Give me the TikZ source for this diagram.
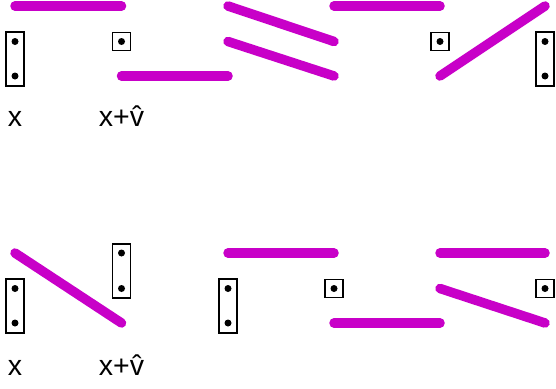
\documentclass[tikz,border=0pt]{standalone}
\usepackage{fontspec}
\setmainfont{Liberation Sans}
\usetikzlibrary{calc}
\definecolor{mag}{RGB}{200,0,200}
\begin{document}
\begin{tikzpicture}[x=1pt,y=-1pt,
  seg/.style={draw=mag,line width=9.5pt,line cap=round},
  tallbox/.style={draw=black,fill=white,line width=1.8pt,minimum width=18pt,minimum height=54pt,inner sep=0pt},
  smallbox/.style={draw=black,fill=white,line width=1.8pt,minimum width=18pt,minimum height=18pt,inner sep=0pt},
  dot/.style={fill=black,circle,inner sep=0pt,minimum size=7pt},
  lbl/.style={font=\fontsize{28.5}{32}\selectfont,inner sep=0pt,anchor=base}]
\useasboundingbox (0,0) rectangle (556,388);
% grid coordinates
\foreach \c/\xx in {0/15,1/121.5,2/228,3/334,4/440,5/545}{
  \foreach \r/\yy in {a/6,b/41.5,c/76,d/253,e/288.5,f/323}{
    \coordinate (p\c\r) at (\xx,\yy);
  }
}
% ---- top row boxes
\node[tallbox] (tb0) at ($(p0b)!0.5!(p0c)$) {};
\node[smallbox] (sb1) at (p1b) {};
\node[smallbox] (sb4) at (p4b) {};
\node[tallbox] (tb5) at ($(p5b)!0.5!(p5c)$) {};
\node[dot] (d0b) at (p0b) {};
\node[dot] (d0c) at (p0c) {};
\node[dot] (d1b) at (p1b) {};
\node[dot] (d4b) at (p4b) {};
\node[dot] (d5b) at (p5b) {};
\node[dot] (d5c) at (p5c) {};
% top row segments
\draw[seg] (p0a) -- (p1a);
\draw[seg] (p1c) -- (p2c);
\draw[seg] (p2a) -- (p3b);
\draw[seg] (p2b) -- (p3c);
\draw[seg] (p3a) -- (p4a);
\draw[seg] (p4c) -- (p5a);
% top labels
\node[lbl] (lx1) at (15,126.7) {x};
\node[lbl] (lxv1) at (121.5,126.7) {x+\^{v}};
% ---- bottom row boxes
\node[tallbox] (tb0d) at ($(p0e)!0.5!(p0f)$) {};
\node[tallbox] (tb1d) at ($(p1d)!0.5!(p1e)$) {};
\node[tallbox] (tb2d) at ($(p2e)!0.5!(p2f)$) {};
\node[smallbox] (sb3d) at (p3e) {};
\node[smallbox] (sb5d) at (p5e) {};
\node[dot] (d0e) at (p0e) {};
\node[dot] (d0f) at (p0f) {};
\node[dot] (d1d) at (p1d) {};
\node[dot] (d1e) at (p1e) {};
\node[dot] (d2e) at (p2e) {};
\node[dot] (d2f) at (p2f) {};
\node[dot] (d3e) at (p3e) {};
\node[dot] (d5e) at (p5e) {};
% bottom segments
\draw[seg] (p0d) -- (p1f);
\draw[seg] (p2d) -- (p3d);
\draw[seg] (p3f) -- (p4f);
\draw[seg] (p4d) -- (p5d);
\draw[seg] (p4e) -- (p5f);
% bottom labels
\node[lbl] (lx2) at (15,375) {x};
\node[lbl] (lxv2) at (121.5,375) {x+\^{v}};
\end{tikzpicture}
\end{document}
